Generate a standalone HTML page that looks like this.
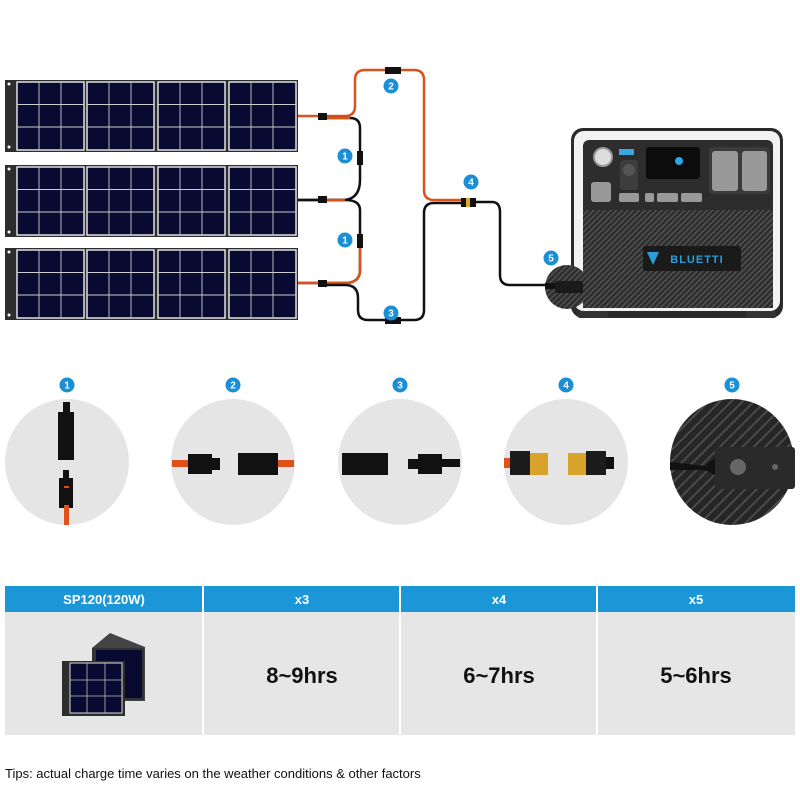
<!DOCTYPE html>
<html><head><style>
body{margin:0;background:#fff;}
svg{display:block;font-family:"Liberation Sans",sans-serif;}
</style></head><body>
<svg width="800" height="800" viewBox="0 0 800 800" xmlns="http://www.w3.org/2000/svg">
<defs>
<pattern id="hatch" width="4" height="4" patternUnits="userSpaceOnUse" patternTransform="rotate(45)">
<rect width="4" height="4" fill="#2e2e2e"/><rect width="1.3" height="4" fill="#555"/>
</pattern>
<pattern id="hatch2" width="8" height="8" patternUnits="userSpaceOnUse" patternTransform="rotate(45)">
<rect width="8" height="8" fill="#262626"/><rect width="2" height="8" fill="#4a4a4a"/>
</pattern>
<g id="module">
<rect x="0" y="0" width="67" height="68" fill="#080a32" stroke="#eee" stroke-width="1.4"/>
<line x1="22" y1="0" x2="22" y2="68" stroke="#ccc" stroke-width="0.9"/>
<line x1="44" y1="0" x2="44" y2="68" stroke="#ccc" stroke-width="0.9"/>
<line x1="0" y1="22.5" x2="67" y2="22.5" stroke="#ccc" stroke-width="0.9"/>
<line x1="0" y1="45" x2="67" y2="45" stroke="#ccc" stroke-width="0.9"/>
</g>
<g id="panel">
<rect x="5" y="0" width="293" height="72" fill="#2d2d2d"/>
<circle cx="9" cy="4" r="1.5" fill="#fff"/><circle cx="9" cy="67" r="1.5" fill="#fff"/>
<use href="#module" x="17" y="2"/>
<use href="#module" x="87" y="2"/>
<use href="#module" x="158" y="2"/>
<use href="#module" x="229" y="2"/>
</g>
<g id="badge"><circle r="7.5" fill="#1b8fd6"/></g>
</defs>

<use href="#panel" x="0" y="80"/>
<use href="#panel" x="0" y="165"/>
<use href="#panel" x="0" y="248"/>

<g fill="none" stroke-width="2.5">
<path d="M298 116 H345 Q355 116 355 106 V80 Q355 70 365 70 H400" stroke="#d9531e"/>
<path d="M400 70 H414 Q424 70 424 80 V190 Q424 200 434 200 H462" stroke="#d9531e"/>
<path d="M320 118 H350 Q360 118 360 128 V180 Q360 198 345 200 H298" stroke="#111"/>
<path d="M320 118 H350" stroke="#d9531e"/>
<path d="M298 200 H345 Q360 200 360 210 V270 Q360 283 345 283 H298" stroke="#111"/>
<path d="M320 200 H345" stroke="#d9531e"/>
<path d="M298 283 H345 Q360 283 360 270 V240" stroke="#d9531e"/>
<path d="M320 285 H345 Q358 285 358 298 V310 Q358 320 368 320 H400" stroke="#111"/>
<path d="M400 320 H414 Q424 320 424 310 V213 Q424 203 434 203 H462" stroke="#111"/>
<path d="M475 202 H492 Q500 202 500 212 V275 Q500 285 510 285 H550" stroke="#111"/>
</g>
<g fill="#111">
<rect x="318" y="113" width="9" height="7"/><rect x="318" y="196" width="9" height="7"/><rect x="318" y="280" width="9" height="7"/>
<rect x="357" y="151" width="6" height="14"/><rect x="357" y="234" width="6" height="14"/>
<rect x="385" y="67" width="16" height="7"/><rect x="385" y="317" width="16" height="7"/>
<rect x="461" y="198" width="15" height="9"/>
</g>
<rect x="466" y="198" width="4" height="9" fill="#e5a824"/>

<g font-size="10" font-weight="bold" fill="#fff" text-anchor="middle">
<use href="#badge" x="391" y="86"/><text x="391" y="89.5">2</text>
<use href="#badge" x="345" y="156"/><text x="345" y="159.5">1</text>
<use href="#badge" x="345" y="240"/><text x="345" y="243.5">1</text>
<use href="#badge" x="391" y="313"/><text x="391" y="316.5">3</text>
<use href="#badge" x="471" y="182"/><text x="471" y="185.5">4</text>
<use href="#badge" x="551" y="258"/><text x="551" y="261.5">5</text>
</g>

<rect x="571" y="128" width="212" height="190" rx="12" fill="#2a2a2a"/>
<rect x="574" y="131" width="206" height="180" rx="10" fill="#f2f2f2"/>
<rect x="583" y="140" width="190" height="168" rx="6" fill="#2d2d2d"/>
<rect x="583" y="210" width="190" height="98" fill="url(#hatch)"/>
<circle cx="603" cy="157" r="9" fill="#ddd" stroke="#999" stroke-width="2"/>
<rect x="619" y="149" width="15" height="6" fill="#3aa7e0"/>
<rect x="620" y="160" width="18" height="30" rx="3" fill="#3d3d3d"/>
<circle cx="629" cy="170" r="6" fill="#555"/>
<rect x="646" y="147" width="54" height="32" rx="3" fill="#0c0c0c"/>
<circle cx="679" cy="161" r="4" fill="#2aa6e6"/>
<rect x="709" y="147" width="61" height="47" rx="4" fill="#3b3b3b"/>
<rect x="712" y="151" width="26" height="40" rx="3" fill="#999"/>
<rect x="742" y="151" width="25" height="40" rx="3" fill="#999"/>
<rect x="591" y="182" width="20" height="20" rx="3" fill="#999"/>
<rect x="619" y="193" width="20" height="9" rx="2" fill="#999"/>
<rect x="645" y="193" width="9" height="9" rx="2" fill="#999"/>
<rect x="657" y="193" width="21" height="9" rx="2" fill="#999"/>
<rect x="681" y="193" width="21" height="9" rx="2" fill="#999"/>
<rect x="643" y="246" width="98" height="25" rx="3" fill="#1a1a1a"/>
<text x="697" y="263" font-size="11" fill="#2a9fdc" text-anchor="middle" font-weight="bold" letter-spacing="1">BLUETTI</text>
<path d="M647 252 L659 252 L653 265 Z" fill="#2a9fdc"/>
<rect x="578" y="311" width="30" height="7" rx="2" fill="#333"/><rect x="746" y="311" width="30" height="7" rx="2" fill="#333"/>
<circle cx="567" cy="287" r="22" fill="url(#hatch)"/>
<rect x="555" y="281" width="28" height="12" rx="2" fill="#1a1a1a"/>
<rect x="545" y="283" width="10" height="6" fill="#111"/>

<g font-size="10" font-weight="bold" fill="#fff" text-anchor="middle">
<use href="#badge" x="67" y="385"/><text x="67" y="388.5">1</text>
<use href="#badge" x="233" y="385"/><text x="233" y="388.5">2</text>
<use href="#badge" x="400" y="385"/><text x="400" y="388.5">3</text>
<use href="#badge" x="566" y="385"/><text x="566" y="388.5">4</text>
<use href="#badge" x="732" y="385"/><text x="732" y="388.5">5</text>
</g>
<ellipse cx="67" cy="462" rx="62" ry="63" fill="#e5e5e5"/>
<ellipse cx="233" cy="462" rx="62" ry="63" fill="#e5e5e5"/>
<ellipse cx="400" cy="462" rx="62" ry="63" fill="#e5e5e5"/>
<ellipse cx="566" cy="462" rx="62" ry="63" fill="#e5e5e5"/>
<ellipse cx="732" cy="462" rx="62" ry="63" fill="url(#hatch2)"/>
<rect x="63" y="402" width="7" height="12" fill="#111"/><rect x="58" y="412" width="16" height="48" fill="#111"/>
<rect x="59" y="478" width="14" height="30" fill="#111"/><rect x="63" y="470" width="6" height="10" fill="#111"/>
<rect x="64" y="505" width="5" height="20" fill="#e0501a"/><rect x="64" y="486" width="5" height="2" fill="#e0501a"/>
<rect x="172" y="460" width="20" height="7" fill="#e0501a"/><rect x="188" y="454" width="24" height="20" fill="#111"/><rect x="212" y="458" width="8" height="12" fill="#111"/>
<rect x="238" y="453" width="40" height="22" fill="#111"/><rect x="278" y="460" width="16" height="7" fill="#e0501a"/>
<rect x="342" y="453" width="46" height="22" fill="#111"/>
<rect x="408" y="459" width="10" height="10" fill="#111"/><rect x="418" y="454" width="24" height="20" fill="#111"/><rect x="442" y="459" width="18" height="8" fill="#111"/>
<rect x="504" y="458" width="6" height="10" fill="#e0501a"/>
<rect x="510" y="451" width="20" height="24" fill="#1c1c1c"/><rect x="530" y="453" width="18" height="22" fill="#d9a22a"/>
<rect x="568" y="453" width="18" height="22" fill="#d9a22a"/><rect x="586" y="451" width="20" height="24" fill="#1c1c1c"/><rect x="606" y="457" width="8" height="12" fill="#111"/>
<rect x="715" y="447" width="80" height="42" rx="3" fill="#2a2a2a"/>
<circle cx="738" cy="467" r="8" fill="#666"/><circle cx="775" cy="467" r="3" fill="#666"/>
<path d="M670 462 L705 466 L715 458 L715 475 L705 470 L670 470 Z" fill="#111"/>

<rect x="5" y="586" width="790" height="26" fill="#1b96d6"/>
<rect x="5" y="612" width="790" height="123" fill="#e6e6e6"/>
<g stroke="#fff" stroke-width="2"><line x1="203" y1="586" x2="203" y2="735"/><line x1="400" y1="586" x2="400" y2="735"/><line x1="597" y1="586" x2="597" y2="735"/></g>
<g font-size="13" font-weight="bold" fill="#fff" text-anchor="middle">
<text x="104" y="604">SP120(120W)</text><text x="302" y="604">x3</text><text x="499" y="604">x4</text><text x="696" y="604">x5</text>
</g>
<g font-size="22" font-weight="bold" fill="#111" text-anchor="middle">
<text x="302" y="683">8~9hrs</text><text x="499" y="683">6~7hrs</text><text x="696" y="683">5~6hrs</text>
</g>
<path d="M92 648 L110 633 L145 647 L145 701 L92 701 Z" fill="#444"/>
<rect x="92" y="648" width="52" height="52" fill="#333"/>
<rect x="96" y="650" width="46" height="48" fill="#080a32"/>
<rect x="62" y="661" width="63" height="55" fill="#2d2d2d"/>
<rect x="70" y="663" width="52" height="50" fill="#080a32" stroke="#ddd"/>
<g stroke="#bbb" stroke-width="0.8"><line x1="87" y1="663" x2="87" y2="713"/><line x1="105" y1="663" x2="105" y2="713"/><line x1="70" y1="680" x2="122" y2="680"/><line x1="70" y1="696" x2="122" y2="696"/></g>

<text x="5" y="778" font-size="13" fill="#111">Tips: actual charge time varies on the weather conditions &amp; other factors</text>
</svg>
</body></html>
